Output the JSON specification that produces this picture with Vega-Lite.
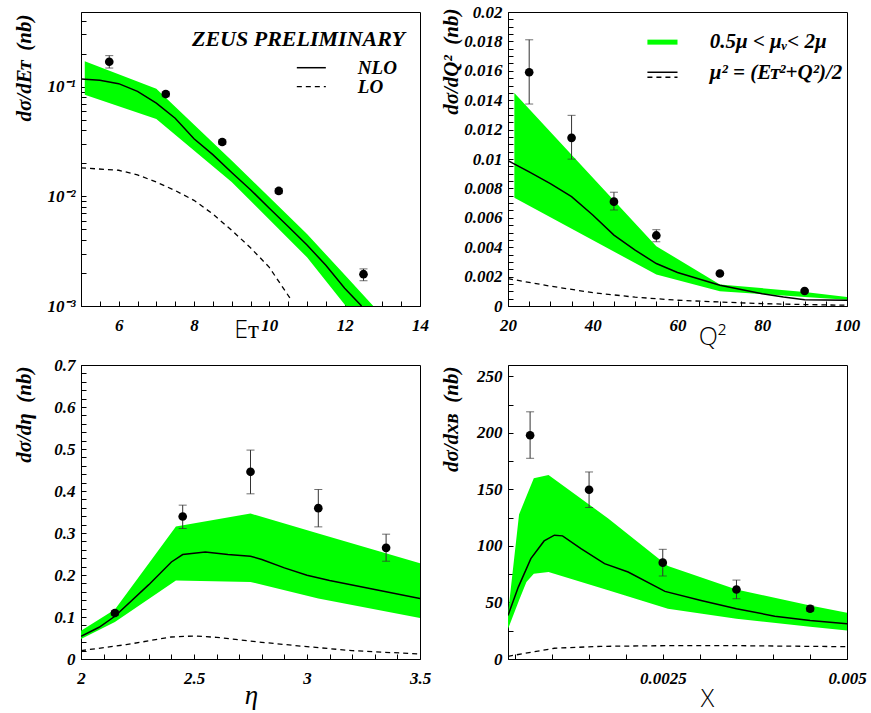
{
  "$schema": "https://vega.github.io/schema/vega-lite/v6.json",
  "background": "white",
  "padding": {"left": 12, "top": 2, "right": 5, "bottom": 5},
  "datasets": {
    "band1": [
      {"x": 5.1, "hi": 0.1706, "lo": 0.0845},
      {"x": 7.0, "hi": 0.096, "lo": 0.0508},
      {"x": 9.0, "hi": 0.0212, "lo": 0.0135},
      {"x": 11.0, "hi": 0.00454, "lo": 0.00278},
      {"x": 12.03, "hi": 0.001875, "lo": 0.001},
      {"x": 12.76, "hi": 0.001, "lo": 0.000484}
    ],
    "nlo1": [
      {"x": 5, "y": 0.1175}, {"x": 5.5, "y": 0.1143}, {"x": 6, "y": 0.1066}, {"x": 6.5, "y": 0.0906},
      {"x": 7, "y": 0.0708}, {"x": 7.5, "y": 0.0516}, {"x": 8, "y": 0.0335}, {"x": 8.5, "y": 0.024},
      {"x": 9, "y": 0.0165}, {"x": 9.5, "y": 0.0115}, {"x": 10, "y": 0.0078}, {"x": 10.5, "y": 0.0053},
      {"x": 11, "y": 0.0036}, {"x": 11.5, "y": 0.00235}, {"x": 12, "y": 0.00145}, {"x": 12.45, "y": 0.001}
    ],
    "lo1": [
      {"x": 5, "y": 0.0182}, {"x": 6, "y": 0.0173}, {"x": 6.5, "y": 0.0157}, {"x": 7, "y": 0.0135},
      {"x": 7.5, "y": 0.0113}, {"x": 8, "y": 0.0092}, {"x": 8.5, "y": 0.0069}, {"x": 9, "y": 0.0049},
      {"x": 9.5, "y": 0.0034}, {"x": 10, "y": 0.00225}, {"x": 10.6, "y": 0.00111}
    ],
    "pts1": [
      {"x": 5.75, "y": 0.169, "ylo": 0.148, "yhi": 0.192},
      {"x": 7.25, "y": 0.0857, "ylo": 0.081, "yhi": 0.09},
      {"x": 8.75, "y": 0.0313, "ylo": 0.0298, "yhi": 0.0328},
      {"x": 10.25, "y": 0.0112, "ylo": 0.0106, "yhi": 0.0118},
      {"x": 12.5, "y": 0.00195, "ylo": 0.0017, "yhi": 0.00218}
    ],
    "band2": [
      {"x": 21.5, "hi": 0.01449, "lo": 0.00737},
      {"x": 55, "hi": 0.00407, "lo": 0.00214},
      {"x": 70, "hi": 0.00146, "lo": 0.001},
      {"x": 90, "hi": 0.00096, "lo": 0.00062},
      {"x": 100, "hi": 0.00061, "lo": 0.00043}
    ],
    "nlo2": [
      {"x": 20, "y": 0.00988}, {"x": 25, "y": 0.00912}, {"x": 30, "y": 0.00832}, {"x": 35, "y": 0.00744},
      {"x": 40, "y": 0.00619}, {"x": 45, "y": 0.00482}, {"x": 50, "y": 0.0038}, {"x": 55, "y": 0.00289},
      {"x": 60, "y": 0.00228}, {"x": 70, "y": 0.00141}, {"x": 80, "y": 0.00084}, {"x": 85, "y": 0.00061},
      {"x": 90, "y": 0.00043}, {"x": 100, "y": 0.00039}
    ],
    "lo2": [
      {"x": 20, "y": 0.00186}, {"x": 30, "y": 0.00135}, {"x": 40, "y": 0.00091}, {"x": 50, "y": 0.0006},
      {"x": 60, "y": 0.00039}, {"x": 70, "y": 0.00027}, {"x": 80, "y": 0.00016}, {"x": 90, "y": 0.0001},
      {"x": 100, "y": 0.00005}
    ],
    "pts2": [
      {"x": 25, "y": 0.0159, "ylo": 0.01374, "yhi": 0.01811},
      {"x": 35, "y": 0.01144, "ylo": 0.00999, "yhi": 0.01297},
      {"x": 45, "y": 0.0071, "ylo": 0.00653, "yhi": 0.00774},
      {"x": 55, "y": 0.0048, "ylo": 0.00437, "yhi": 0.00519},
      {"x": 70, "y": 0.00221, "ylo": 0.00211, "yhi": 0.00231},
      {"x": 90, "y": 0.00102, "ylo": 0.00095, "yhi": 0.00109}
    ],
    "band3": [
      {"x": 2.0, "hi": 0.0675, "lo": 0.0477},
      {"x": 2.15, "hi": 0.1176, "lo": 0.088},
      {"x": 2.42, "hi": 0.3154, "lo": 0.1867},
      {"x": 2.75, "hi": 0.3464, "lo": 0.1835},
      {"x": 3.05, "hi": 0.299, "lo": 0.1438},
      {"x": 3.5, "hi": 0.228, "lo": 0.0977}
    ],
    "nlo3": [
      {"x": 2.0, "y": 0.054}, {"x": 2.08, "y": 0.0755}, {"x": 2.15, "y": 0.1017}, {"x": 2.3, "y": 0.177},
      {"x": 2.4, "y": 0.231}, {"x": 2.45, "y": 0.2487}, {"x": 2.55, "y": 0.255}, {"x": 2.65, "y": 0.2487},
      {"x": 2.75, "y": 0.2447}, {"x": 2.8, "y": 0.2368}, {"x": 2.9, "y": 0.2169}, {"x": 3.0, "y": 0.1994},
      {"x": 3.1, "y": 0.1867}, {"x": 3.3, "y": 0.1653}, {"x": 3.5, "y": 0.1438}
    ],
    "lo3": [
      {"x": 2.0, "y": 0.0199}, {"x": 2.2, "y": 0.0342}, {"x": 2.4, "y": 0.0524}, {"x": 2.5, "y": 0.0548},
      {"x": 2.6, "y": 0.0516}, {"x": 2.8, "y": 0.0397}, {"x": 3.0, "y": 0.0294}, {"x": 3.2, "y": 0.0199},
      {"x": 3.5, "y": 0.0119}
    ],
    "pts3": [
      {"x": 2.15, "y": 0.1096, "ylo": 0.104, "yhi": 0.115},
      {"x": 2.45, "y": 0.3393, "ylo": 0.3107, "yhi": 0.3663},
      {"x": 2.75, "y": 0.4457, "ylo": 0.3933, "yhi": 0.4974},
      {"x": 3.05, "y": 0.3591, "ylo": 0.3146, "yhi": 0.4036},
      {"x": 3.35, "y": 0.2646, "ylo": 0.2328, "yhi": 0.2972}
    ],
    "band4": [
      {"x": 0.0004, "hi": 40, "lo": 26.6},
      {"x": 0.00055, "hi": 127.8, "lo": 52},
      {"x": 0.00065, "hi": 144, "lo": 68},
      {"x": 0.00075, "hi": 159.8, "lo": 75.4},
      {"x": 0.00095, "hi": 162.7, "lo": 76.9},
      {"x": 0.00176, "hi": 124.3, "lo": 60.7},
      {"x": 0.00257, "hi": 82.2, "lo": 44.4},
      {"x": 0.0035, "hi": 61.5, "lo": 35.5},
      {"x": 0.0045, "hi": 47.3, "lo": 28.6},
      {"x": 0.005, "hi": 40.8, "lo": 25.1}
    ],
    "nlo4": [
      {"x": 0.0004, "y": 38.5}, {"x": 0.00054, "y": 63.6}, {"x": 0.00071, "y": 88.8}, {"x": 0.00089, "y": 104.4},
      {"x": 0.00103, "y": 109.5}, {"x": 0.00114, "y": 108.9}, {"x": 0.00139, "y": 97.6}, {"x": 0.00171, "y": 84.3},
      {"x": 0.00203, "y": 76.9}, {"x": 0.00253, "y": 59.8}, {"x": 0.00302, "y": 51.8}, {"x": 0.0035, "y": 44.4},
      {"x": 0.00402, "y": 37.9}, {"x": 0.0045, "y": 34.0}, {"x": 0.005, "y": 31.1}
    ],
    "lo4": [
      {"x": 0.0004, "y": 2.4}, {"x": 0.00076, "y": 6.5}, {"x": 0.00103, "y": 9.5}, {"x": 0.00166, "y": 11.2},
      {"x": 0.00257, "y": 11.8}, {"x": 0.0035, "y": 11.8}, {"x": 0.005, "y": 10.9}
    ],
    "pts4": [
      {"x": 0.0007, "y": 197.9, "ylo": 177.5, "yhi": 218.6},
      {"x": 0.0015, "y": 149.7, "ylo": 134.0, "yhi": 165.4},
      {"x": 0.0025, "y": 85.2, "ylo": 73.4, "yhi": 97.0},
      {"x": 0.0035, "y": 61.5, "ylo": 53.3, "yhi": 69.8},
      {"x": 0.0045, "y": 44.4, "ylo": 42.0, "yhi": 47.0}
    ]
  },
  "columns": 2,
  "spacing": {"row": 59, "column": 88},
  "bounds": "flush",
  "concat": [
    {
      "width": 339, "height": 294,
      "layer": [
        {
          "data": {"name": "band1"},
          "mark": {"type": "area", "color": "#00ff00", "clip": true},
          "encoding": {
            "x": {"field": "x", "type": "quantitative", "scale": {"domain": [5, 14], "nice": false, "zero": false},
              "axis": {"title": "Eᴛ", "titleFont": "Open Sans", "titleFontWeight": 300, "titleFontStyle": "normal", "titleFontSize": 25, "titleX": 165, "titleY": 23,
                "tickCount": 500, "labelOverlap": false, "labelBound": false, "labelFlush": false,
                "values": [5,5.5,6,6.5,7,7.5,8,8.5,9,9.5,10,10.5,11,11.5,12,12.5,13,13.5,14],
                "labelExpr": "datum.value % 2 == 0 ? format(datum.value, 'd') : ''"}},
            "y": {"field": "hi", "type": "quantitative", "scale": {"type": "log", "domain": [0.001, 0.48], "nice": false},
              "axis": {"title": "dσ/dEᴛ\u00a0\u00a0(nb)", "titleY": 2,
                "tickCount": 500, "labelOverlap": false, "labelBound": false, "labelFlush": false,
                "values": [0.001,0.002,0.003,0.004,0.005,0.006,0.007,0.008,0.009,0.01,0.02,0.03,0.04,0.05,0.06,0.07,0.08,0.09,0.1,0.2,0.3,0.4],
                "labelExpr": "datum.value == 0.1 ? '10⁻¹' : datum.value == 0.01 ? '10⁻²' : datum.value == 0.001 ? '10⁻³' : ''"}},
            "y2": {"field": "lo"}
          }
        },
        {
          "data": {"name": "nlo1"},
          "mark": {"type": "line", "color": "black", "strokeWidth": 1.5, "clip": true},
          "encoding": {"x": {"field": "x", "type": "quantitative"}, "y": {"field": "y", "type": "quantitative", "scale": {"type": "log"}}}
        },
        {
          "data": {"name": "lo1"},
          "mark": {"type": "line", "color": "black", "strokeWidth": 1.3, "strokeDash": [5, 4], "clip": true},
          "encoding": {"x": {"field": "x", "type": "quantitative"}, "y": {"field": "y", "type": "quantitative", "scale": {"type": "log"}}}
        },
        {
          "data": {"name": "pts1"},
          "mark": {"type": "rule", "color": "#333333", "strokeWidth": 1},
          "encoding": {"x": {"field": "x", "type": "quantitative"}, "y": {"field": "ylo", "type": "quantitative", "scale": {"type": "log"}}, "y2": {"field": "yhi"}}
        },
        {
          "data": {"name": "pts1"},
          "mark": {"type": "tick", "orient": "horizontal", "size": 8, "thickness": 1, "color": "#333333"},
          "encoding": {"x": {"field": "x", "type": "quantitative"}, "y": {"field": "ylo", "type": "quantitative", "scale": {"type": "log"}}}
        },
        {
          "data": {"name": "pts1"},
          "mark": {"type": "tick", "orient": "horizontal", "size": 8, "thickness": 1, "color": "#333333"},
          "encoding": {"x": {"field": "x", "type": "quantitative"}, "y": {"field": "yhi", "type": "quantitative", "scale": {"type": "log"}}}
        },
        {
          "data": {"name": "pts1"},
          "mark": {"type": "point", "filled": true, "size": 75, "color": "black", "opacity": 1},
          "encoding": {"x": {"field": "x", "type": "quantitative"}, "y": {"field": "y", "type": "quantitative", "scale": {"type": "log"}}}
        },
        {
          "data": {"values": [{"t": "ZEUS PRELIMINARY", "u": 13.6, "v": 0.275}]},
          "mark": {"type": "text", "align": "right", "baseline": "middle", "font": "Liberation Serif", "fontStyle": "italic", "fontWeight": "bold", "fontSize": 22, "color": "black"},
          "encoding": {"x": {"field": "u", "type": "quantitative"}, "y": {"field": "v", "type": "quantitative", "scale": {"type": "log"}}, "text": {"field": "t"}}
        },
        {
          "data": {"values": [{"t": "NLO", "u": 12.35, "v": 0.149}, {"t": "LO", "u": 12.35, "v": 0.1}]},
          "mark": {"type": "text", "align": "left", "baseline": "middle", "font": "Liberation Serif", "fontStyle": "italic", "fontWeight": "bold", "fontSize": 19, "color": "black"},
          "encoding": {"x": {"field": "u", "type": "quantitative"}, "y": {"field": "v", "type": "quantitative", "scale": {"type": "log"}}, "text": {"field": "t"}}
        },
        {
          "data": {"values": [{"u": 10.73, "u2": 11.5, "v": 0.149}]},
          "mark": {"type": "rule", "color": "black", "strokeWidth": 1.5},
          "encoding": {"x": {"field": "u", "type": "quantitative"}, "x2": {"field": "u2"}, "y": {"field": "v", "type": "quantitative", "scale": {"type": "log"}}}
        },
        {
          "data": {"values": [{"u": 10.73, "u2": 11.5, "v": 0.1}]},
          "mark": {"type": "rule", "color": "black", "strokeWidth": 1.3, "strokeDash": [5, 4]},
          "encoding": {"x": {"field": "u", "type": "quantitative"}, "x2": {"field": "u2"}, "y": {"field": "v", "type": "quantitative", "scale": {"type": "log"}}}
        }
      ]
    },
    {
      "width": 339, "height": 294,
      "layer": [
        {
          "data": {"name": "band2"},
          "mark": {"type": "area", "color": "#00ff00", "clip": true},
          "encoding": {
            "x": {"field": "x", "type": "quantitative", "scale": {"domain": [20, 100], "nice": false, "zero": false},
              "axis": {"title": "Q²", "titleFont": "Open Sans", "titleFontWeight": 300, "titleFontStyle": "normal", "titleFontSize": 25, "titleX": 204, "titleY": 30,
                "tickCount": 500, "labelOverlap": false, "labelBound": false, "labelFlush": false,
                "values": [20,25,30,35,40,45,50,55,60,65,70,75,80,85,90,95,100],
                "labelExpr": "datum.value % 20 == 0 ? format(datum.value, 'd') : ''"}},
            "y": {"field": "hi", "type": "quantitative", "scale": {"domain": [0, 0.02], "nice": false, "zero": false},
              "axis": {"title": "dσ/dQ²\u00a0\u00a0(nb)", "titleY": -4,
                "tickCount": 500, "labelOverlap": false, "labelBound": false, "labelFlush": false,
                "values": [0,0.0005,0.001,0.0015,0.002,0.0025,0.003,0.0035,0.004,0.0045,0.005,0.0055,0.006,0.0065,0.007,0.0075,0.008,0.0085,0.009,0.0095,0.01,0.0105,0.011,0.0115,0.012,0.0125,0.013,0.0135,0.014,0.0145,0.015,0.0155,0.016,0.0165,0.017,0.0175,0.018,0.0185,0.019,0.0195,0.02],
                "labelExpr": "abs(datum.value*500 - round(datum.value*500)) < 1e-6 ? format(datum.value, '~g') : ''"}},
            "y2": {"field": "lo"}
          }
        },
        {
          "data": {"name": "nlo2"},
          "mark": {"type": "line", "color": "black", "strokeWidth": 1.5, "clip": true},
          "encoding": {"x": {"field": "x", "type": "quantitative"}, "y": {"field": "y", "type": "quantitative"}}
        },
        {
          "data": {"name": "lo2"},
          "mark": {"type": "line", "color": "black", "strokeWidth": 1.3, "strokeDash": [5, 4], "clip": true},
          "encoding": {"x": {"field": "x", "type": "quantitative"}, "y": {"field": "y", "type": "quantitative"}}
        },
        {
          "data": {"name": "pts2"},
          "mark": {"type": "rule", "color": "#333333", "strokeWidth": 1},
          "encoding": {"x": {"field": "x", "type": "quantitative"}, "y": {"field": "ylo", "type": "quantitative"}, "y2": {"field": "yhi"}}
        },
        {
          "data": {"name": "pts2"},
          "mark": {"type": "tick", "orient": "horizontal", "size": 8, "thickness": 1, "color": "#333333"},
          "encoding": {"x": {"field": "x", "type": "quantitative"}, "y": {"field": "ylo", "type": "quantitative"}}
        },
        {
          "data": {"name": "pts2"},
          "mark": {"type": "tick", "orient": "horizontal", "size": 8, "thickness": 1, "color": "#333333"},
          "encoding": {"x": {"field": "x", "type": "quantitative"}, "y": {"field": "yhi", "type": "quantitative"}}
        },
        {
          "data": {"name": "pts2"},
          "mark": {"type": "point", "filled": true, "size": 75, "color": "black", "opacity": 1},
          "encoding": {"x": {"field": "x", "type": "quantitative"}, "y": {"field": "y", "type": "quantitative"}}
        },
        {
          "data": {"values": [{"u": 52.9, "u2": 60.0, "v": 0.01795}]},
          "mark": {"type": "rule", "color": "#00ff00", "strokeWidth": 5},
          "encoding": {"x": {"field": "u", "type": "quantitative"}, "x2": {"field": "u2"}, "y": {"field": "v", "type": "quantitative"}}
        },
        {
          "data": {"values": [{"u": 52.9, "u2": 60.0, "v": 0.0159}]},
          "mark": {"type": "rule", "color": "black", "strokeWidth": 1.5},
          "encoding": {"x": {"field": "u", "type": "quantitative"}, "x2": {"field": "u2"}, "y": {"field": "v", "type": "quantitative"}}
        },
        {
          "data": {"values": [{"u": 52.9, "u2": 60.0, "v": 0.01556}]},
          "mark": {"type": "rule", "color": "black", "strokeWidth": 1.3, "strokeDash": [5, 4]},
          "encoding": {"x": {"field": "u", "type": "quantitative"}, "x2": {"field": "u2"}, "y": {"field": "v", "type": "quantitative"}}
        },
        {
          "data": {"values": [{"t": "0.5μ < μᵥ< 2μ", "u": 67.6, "v": 0.01795}, {"t": "μ² = (Eᴛ²+Q²)/2", "u": 67.6, "v": 0.01584}]},
          "mark": {"type": "text", "align": "left", "baseline": "middle", "font": "Liberation Serif", "fontStyle": "italic", "fontWeight": "bold", "fontSize": 21, "color": "black"},
          "encoding": {"x": {"field": "u", "type": "quantitative"}, "y": {"field": "v", "type": "quantitative"}, "text": {"field": "t"}}
        }
      ]
    },
    {
      "width": 339, "height": 294,
      "layer": [
        {
          "data": {"name": "band3"},
          "mark": {"type": "area", "color": "#00ff00", "clip": true},
          "encoding": {
            "x": {"field": "x", "type": "quantitative", "scale": {"domain": [2, 3.5], "nice": false, "zero": false},
              "axis": {"title": "η", "titleFont": "Liberation Serif", "titleFontWeight": "normal", "titleFontStyle": "italic", "titleFontSize": 27, "titleX": 170, "titleY": 36,
                "tickCount": 500, "labelOverlap": false, "labelBound": false, "labelFlush": false,
                "values": [2,2.1,2.2,2.3,2.4,2.5,2.6,2.7,2.8,2.9,3,3.1,3.2,3.3,3.4,3.5],
                "labelExpr": "abs(datum.value*2 - round(datum.value*2)) < 1e-6 ? format(datum.value, '~g') : ''"}},
            "y": {"field": "hi", "type": "quantitative", "scale": {"domain": [0, 0.7], "nice": false, "zero": false},
              "axis": {"title": "dσ/dη\u00a0\u00a0(nb)", "titleY": 1,
                "tickCount": 500, "labelOverlap": false, "labelBound": false, "labelFlush": false,
                "values": [0,0.02,0.04,0.06,0.08,0.1,0.12,0.14,0.16,0.18,0.2,0.22,0.24,0.26,0.28,0.3,0.32,0.34,0.36,0.38,0.4,0.42,0.44,0.46,0.48,0.5,0.52,0.54,0.56,0.58,0.6,0.62,0.64,0.66,0.68,0.7],
                "labelExpr": "abs(datum.value*10 - round(datum.value*10)) < 1e-6 ? format(datum.value, '~g') : ''"}},
            "y2": {"field": "lo"}
          }
        },
        {
          "data": {"name": "nlo3"},
          "mark": {"type": "line", "color": "black", "strokeWidth": 1.5, "clip": true},
          "encoding": {"x": {"field": "x", "type": "quantitative"}, "y": {"field": "y", "type": "quantitative"}}
        },
        {
          "data": {"name": "lo3"},
          "mark": {"type": "line", "color": "black", "strokeWidth": 1.3, "strokeDash": [5, 4], "clip": true},
          "encoding": {"x": {"field": "x", "type": "quantitative"}, "y": {"field": "y", "type": "quantitative"}}
        },
        {
          "data": {"name": "pts3"},
          "mark": {"type": "rule", "color": "#333333", "strokeWidth": 1},
          "encoding": {"x": {"field": "x", "type": "quantitative"}, "y": {"field": "ylo", "type": "quantitative"}, "y2": {"field": "yhi"}}
        },
        {
          "data": {"name": "pts3"},
          "mark": {"type": "tick", "orient": "horizontal", "size": 8, "thickness": 1, "color": "#333333"},
          "encoding": {"x": {"field": "x", "type": "quantitative"}, "y": {"field": "ylo", "type": "quantitative"}}
        },
        {
          "data": {"name": "pts3"},
          "mark": {"type": "tick", "orient": "horizontal", "size": 8, "thickness": 1, "color": "#333333"},
          "encoding": {"x": {"field": "x", "type": "quantitative"}, "y": {"field": "yhi", "type": "quantitative"}}
        },
        {
          "data": {"name": "pts3"},
          "mark": {"type": "point", "filled": true, "size": 75, "color": "black", "opacity": 1},
          "encoding": {"x": {"field": "x", "type": "quantitative"}, "y": {"field": "y", "type": "quantitative"}}
        }
      ]
    },
    {
      "width": 339, "height": 294,
      "layer": [
        {
          "data": {"name": "band4"},
          "mark": {"type": "area", "color": "#00ff00", "clip": true},
          "encoding": {
            "x": {"field": "x", "type": "quantitative", "scale": {"domain": [0.0004, 0.005], "nice": false, "zero": false},
              "axis": {"title": "X", "titleFont": "Open Sans", "titleFontWeight": 300, "titleFontStyle": "normal", "titleFontSize": 25, "titleX": 199, "titleY": 39,
                "tickCount": 500, "labelOverlap": false, "labelBound": false, "labelFlush": false,
                "values": [0.0005,0.001,0.0015,0.002,0.0025,0.003,0.0035,0.004,0.0045,0.005],
                "labelExpr": "datum.value == 0.0025 ? '0.0025' : datum.value == 0.005 ? '0.005' : ''"}},
            "y": {"field": "hi", "type": "quantitative", "scale": {"domain": [0, 260], "nice": false, "zero": false},
              "axis": {"title": "dσ/dxʙ\u00a0\u00a0(nb)", "titleY": 1,
                "tickCount": 500, "labelOverlap": false, "labelBound": false, "labelFlush": false,
                "values": [0,25,50,75,100,125,150,175,200,225,250],
                "labelExpr": "datum.value % 50 == 0 ? format(datum.value, 'd') : ''"}},
            "y2": {"field": "lo"}
          }
        },
        {
          "data": {"name": "nlo4"},
          "mark": {"type": "line", "color": "black", "strokeWidth": 1.5, "clip": true},
          "encoding": {"x": {"field": "x", "type": "quantitative"}, "y": {"field": "y", "type": "quantitative"}}
        },
        {
          "data": {"name": "lo4"},
          "mark": {"type": "line", "color": "black", "strokeWidth": 1.3, "strokeDash": [5, 4], "clip": true},
          "encoding": {"x": {"field": "x", "type": "quantitative"}, "y": {"field": "y", "type": "quantitative"}}
        },
        {
          "data": {"name": "pts4"},
          "mark": {"type": "rule", "color": "#333333", "strokeWidth": 1},
          "encoding": {"x": {"field": "x", "type": "quantitative"}, "y": {"field": "ylo", "type": "quantitative"}, "y2": {"field": "yhi"}}
        },
        {
          "data": {"name": "pts4"},
          "mark": {"type": "tick", "orient": "horizontal", "size": 8, "thickness": 1, "color": "#333333"},
          "encoding": {"x": {"field": "x", "type": "quantitative"}, "y": {"field": "ylo", "type": "quantitative"}}
        },
        {
          "data": {"name": "pts4"},
          "mark": {"type": "tick", "orient": "horizontal", "size": 8, "thickness": 1, "color": "#333333"},
          "encoding": {"x": {"field": "x", "type": "quantitative"}, "y": {"field": "yhi", "type": "quantitative"}}
        },
        {
          "data": {"name": "pts4"},
          "mark": {"type": "point", "filled": true, "size": 75, "color": "black", "opacity": 1},
          "encoding": {"x": {"field": "x", "type": "quantitative"}, "y": {"field": "y", "type": "quantitative"}}
        }
      ]
    }
  ],
  "config": {
    "view": {"stroke": "black", "strokeWidth": 1},
    "axis": {
      "grid": false, "domainColor": "black", "domainWidth": 1, "tickColor": "black", "tickWidth": 1, "tickSize": -5,
      "labelFont": "Liberation Serif", "labelFontStyle": "italic", "labelFontWeight": "bold", "labelFontSize": 17, "labelColor": "black",
      "labelOverlap": false, "labelFlush": false, "labelBound": false, "titleColor": "black"
    },
    "axisX": {"labelPadding": 16, "titleBaseline": "middle", "titleAlign": "center", "titleAngle": 0},
    "axisY": {"labelPadding": 11, "titleFont": "Liberation Serif", "titleFontStyle": "italic", "titleFontWeight": "bold", "titleFontSize": 21,
      "titleAlign": "right", "titleBaseline": "middle", "titleAngle": -90, "titleX": -57}
  }
}
